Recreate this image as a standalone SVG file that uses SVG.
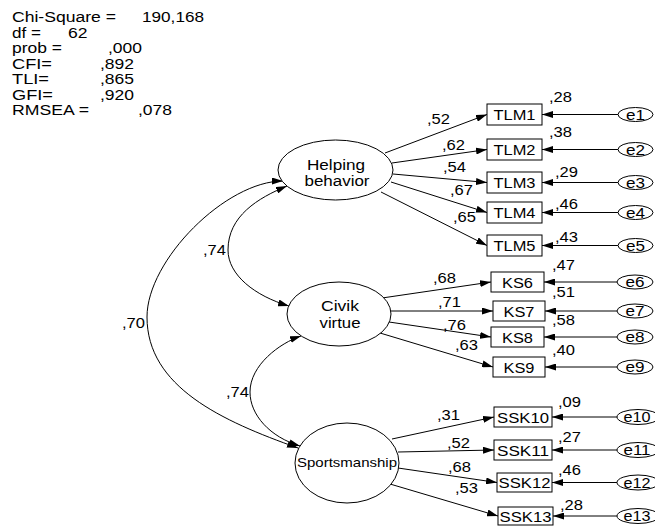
<svg xmlns="http://www.w3.org/2000/svg" width="655" height="527" viewBox="0 0 655 527">
  <style>
    .t { font-family: "Liberation Sans", Arial, sans-serif; font-size: 14px; fill: #000; }
    .c { text-anchor: middle; }
    .ln { stroke: #000; stroke-width: 1; fill: none; }
    .arr { marker-end: url(#ah); }
    .dbl { marker-start: url(#ah); marker-end: url(#ah); }
    .shape { fill: #fff; stroke: #000; stroke-width: 1; }
  </style>
  <defs>
    <marker id="ah" viewBox="0 0 11 7" refX="11" refY="3.5" markerWidth="11" markerHeight="7" markerUnits="userSpaceOnUse" orient="auto-start-reverse">
      <path d="M0,0 L11,3.5 L0,7 z" fill="#000"/>
    </marker>
  </defs>
  <rect width="655" height="527" fill="#fff"/>

  <!-- fit statistics -->
  <g id="fit">
    <text class="t" x="12" y="22" textLength="104" lengthAdjust="spacingAndGlyphs">Chi-Square =</text>
    <text class="t" x="142" y="22" textLength="62" lengthAdjust="spacingAndGlyphs">190,168</text>
    <text class="t" x="12" y="37.5" textLength="29" lengthAdjust="spacingAndGlyphs">df =</text>
    <text class="t" x="68" y="37.5" textLength="19.5" lengthAdjust="spacingAndGlyphs">62</text>
    <text class="t" x="12" y="53" textLength="50" lengthAdjust="spacingAndGlyphs">prob =</text>
    <text class="t" x="108" y="53" textLength="34" lengthAdjust="spacingAndGlyphs">,000</text>
    <text class="t" x="12" y="68.5" textLength="40" lengthAdjust="spacingAndGlyphs">CFI=</text>
    <text class="t" x="100" y="68.5" textLength="34" lengthAdjust="spacingAndGlyphs">,892</text>
    <text class="t" x="12" y="84" textLength="37" lengthAdjust="spacingAndGlyphs">TLI=</text>
    <text class="t" x="100" y="84" textLength="34" lengthAdjust="spacingAndGlyphs">,865</text>
    <text class="t" x="12" y="99.5" textLength="41" lengthAdjust="spacingAndGlyphs">GFI=</text>
    <text class="t" x="100" y="99.5" textLength="34" lengthAdjust="spacingAndGlyphs">,920</text>
    <text class="t" x="12" y="115" textLength="77" lengthAdjust="spacingAndGlyphs">RMSEA =</text>
    <text class="t" x="138" y="115" textLength="34" lengthAdjust="spacingAndGlyphs">,078</text>
  </g>

  <!-- connectors -->
  <g id="connectors" class="ln">
    <!-- covariances -->
    <path class="dbl" d="M283,181 C226,181 147,260 147,317 C147,387 222,421 298,448"/>
    <path class="dbl" d="M287,186 C258,198 228,216 228,250 C228,275 255,296 289,306"/>
    <path class="dbl" d="M301,336 C280,343 250,365 250,392 C250,415 270,437 300,446"/>
    <!-- Helping behavior loadings -->
    <line class="arr" x1="385" y1="153" x2="487" y2="114.5"/>
    <line class="arr" x1="392" y1="163" x2="487" y2="149.5"/>
    <line class="arr" x1="393" y1="174" x2="487" y2="182.5"/>
    <line class="arr" x1="391" y1="182" x2="487" y2="212.5"/>
    <line class="arr" x1="381" y1="192" x2="487" y2="245.5"/>
    <!-- Civik virtue loadings -->
    <line class="arr" x1="382" y1="298" x2="491" y2="282"/>
    <line class="arr" x1="391" y1="311" x2="493" y2="311"/>
    <line class="arr" x1="389" y1="322" x2="491" y2="337"/>
    <line class="arr" x1="380" y1="333" x2="493" y2="367"/>
    <!-- Sportsmanship loadings -->
    <line class="arr" x1="392" y1="439" x2="494" y2="417"/>
    <line class="arr" x1="398" y1="452" x2="494" y2="450"/>
    <line class="arr" x1="398" y1="468" x2="497" y2="482.5"/>
    <line class="arr" x1="390" y1="484" x2="498" y2="516"/>
    <!-- error terms -->
    <line class="arr" x1="618" y1="114.5" x2="542" y2="114.5"/>
    <line class="arr" x1="618" y1="149.5" x2="542" y2="149.5"/>
    <line class="arr" x1="618" y1="182.5" x2="542" y2="182.5"/>
    <line class="arr" x1="618" y1="212.5" x2="542" y2="212.5"/>
    <line class="arr" x1="618" y1="245.5" x2="542" y2="245.5"/>
    <line class="arr" x1="617" y1="282" x2="544" y2="282"/>
    <line class="arr" x1="617" y1="311" x2="545" y2="311"/>
    <line class="arr" x1="617" y1="337" x2="544" y2="337"/>
    <line class="arr" x1="617" y1="367" x2="545" y2="367"/>
    <line class="arr" x1="617" y1="417" x2="552" y2="417"/>
    <line class="arr" x1="617" y1="450" x2="552" y2="450"/>
    <line class="arr" x1="617" y1="482.5" x2="552" y2="482.5"/>
    <line class="arr" x1="617" y1="516" x2="553" y2="516"/>
  </g>

  <!-- connector labels -->
  <g id="estimates">
    <text class="t" x="122" y="328" textLength="23" lengthAdjust="spacingAndGlyphs">,70</text>
    <text class="t" x="203" y="255" textLength="23" lengthAdjust="spacingAndGlyphs">,74</text>
    <text class="t" x="226" y="397" textLength="23" lengthAdjust="spacingAndGlyphs">,74</text>

    <text class="t" x="427" y="124" textLength="23" lengthAdjust="spacingAndGlyphs">,52</text>
    <text class="t" x="442" y="150" textLength="23" lengthAdjust="spacingAndGlyphs">,62</text>
    <text class="t" x="443" y="172" textLength="23" lengthAdjust="spacingAndGlyphs">,54</text>
    <text class="t" x="450" y="195" textLength="23" lengthAdjust="spacingAndGlyphs">,67</text>
    <text class="t" x="453" y="222" textLength="23" lengthAdjust="spacingAndGlyphs">,65</text>

    <text class="t" x="433" y="283" textLength="23" lengthAdjust="spacingAndGlyphs">,68</text>
    <text class="t" x="438" y="307" textLength="23" lengthAdjust="spacingAndGlyphs">,71</text>
    <text class="t" x="443" y="330" textLength="23" lengthAdjust="spacingAndGlyphs">,76</text>
    <text class="t" x="455" y="350" textLength="23" lengthAdjust="spacingAndGlyphs">,63</text>

    <text class="t" x="437" y="420" textLength="23" lengthAdjust="spacingAndGlyphs">,31</text>
    <text class="t" x="447" y="448" textLength="23" lengthAdjust="spacingAndGlyphs">,52</text>
    <text class="t" x="448" y="472" textLength="23" lengthAdjust="spacingAndGlyphs">,68</text>
    <text class="t" x="455" y="493" textLength="23" lengthAdjust="spacingAndGlyphs">,53</text>

    <text class="t" x="549" y="102" textLength="23" lengthAdjust="spacingAndGlyphs">,28</text>
    <text class="t" x="549" y="137" textLength="23" lengthAdjust="spacingAndGlyphs">,38</text>
    <text class="t" x="555" y="177" textLength="23" lengthAdjust="spacingAndGlyphs">,29</text>
    <text class="t" x="555" y="209" textLength="23" lengthAdjust="spacingAndGlyphs">,46</text>
    <text class="t" x="555" y="242" textLength="23" lengthAdjust="spacingAndGlyphs">,43</text>
    <text class="t" x="552" y="270" textLength="23" lengthAdjust="spacingAndGlyphs">,47</text>
    <text class="t" x="552" y="297" textLength="23" lengthAdjust="spacingAndGlyphs">,51</text>
    <text class="t" x="552" y="325" textLength="23" lengthAdjust="spacingAndGlyphs">,58</text>
    <text class="t" x="552" y="355" textLength="23" lengthAdjust="spacingAndGlyphs">,40</text>
    <text class="t" x="558" y="407" textLength="23" lengthAdjust="spacingAndGlyphs">,09</text>
    <text class="t" x="558" y="442" textLength="23" lengthAdjust="spacingAndGlyphs">,27</text>
    <text class="t" x="558" y="475" textLength="23" lengthAdjust="spacingAndGlyphs">,46</text>
    <text class="t" x="560" y="510" textLength="23" lengthAdjust="spacingAndGlyphs">,28</text>
  </g>

  <!-- latent factors -->
  <g id="helping">
    <ellipse class="shape" cx="335.5" cy="170" rx="57.5" ry="30"/>
    <text class="t c" x="336" y="170" textLength="58" lengthAdjust="spacingAndGlyphs">Helping</text>
    <text class="t c" x="337" y="186" textLength="65" lengthAdjust="spacingAndGlyphs">behavior</text>
  </g>
  <g id="civik">
    <ellipse class="shape" cx="339" cy="314" rx="52" ry="32"/>
    <text class="t c" x="340" y="311" textLength="38" lengthAdjust="spacingAndGlyphs">Civik</text>
    <text class="t c" x="340" y="328" textLength="41" lengthAdjust="spacingAndGlyphs">virtue</text>
  </g>
  <g id="sportsmanship">
    <ellipse class="shape" cx="347" cy="463" rx="52" ry="40"/>
    <text class="t c" x="347" y="467" style="font-size:13px" textLength="100" lengthAdjust="spacingAndGlyphs">Sportsmanship</text>
  </g>

  <!-- observed indicators -->
  <g id="TLM1"><rect class="shape" x="487" y="104" width="55" height="21"/><text class="t c" x="514.5" y="120" textLength="42" lengthAdjust="spacingAndGlyphs">TLM1</text></g>
  <g id="TLM2"><rect class="shape" x="487" y="139" width="55" height="21"/><text class="t c" x="514.5" y="155" textLength="42" lengthAdjust="spacingAndGlyphs">TLM2</text></g>
  <g id="TLM3"><rect class="shape" x="487" y="172" width="55" height="21"/><text class="t c" x="514.5" y="188" textLength="42" lengthAdjust="spacingAndGlyphs">TLM3</text></g>
  <g id="TLM4"><rect class="shape" x="487" y="202" width="55" height="21"/><text class="t c" x="514.5" y="218" textLength="42" lengthAdjust="spacingAndGlyphs">TLM4</text></g>
  <g id="TLM5"><rect class="shape" x="487" y="235" width="55" height="21"/><text class="t c" x="514.5" y="251" textLength="42" lengthAdjust="spacingAndGlyphs">TLM5</text></g>

  <g id="KS6"><rect class="shape" x="491" y="272" width="53" height="20"/><text class="t c" x="517.5" y="287.5" textLength="31" lengthAdjust="spacingAndGlyphs">KS6</text></g>
  <g id="KS7"><rect class="shape" x="493" y="301" width="52" height="20"/><text class="t c" x="519" y="316.5" textLength="31" lengthAdjust="spacingAndGlyphs">KS7</text></g>
  <g id="KS8"><rect class="shape" x="491" y="327" width="53" height="20"/><text class="t c" x="517.5" y="342.5" textLength="31" lengthAdjust="spacingAndGlyphs">KS8</text></g>
  <g id="KS9"><rect class="shape" x="493" y="357" width="52" height="20"/><text class="t c" x="519" y="372.5" textLength="31" lengthAdjust="spacingAndGlyphs">KS9</text></g>

  <g id="SSK10"><rect class="shape" x="494" y="407" width="58" height="20"/><text class="t c" x="523" y="422.5" textLength="52" lengthAdjust="spacingAndGlyphs">SSK10</text></g>
  <g id="SSK11"><rect class="shape" x="494" y="440" width="58" height="20"/><text class="t c" x="523" y="455.5" textLength="52" lengthAdjust="spacingAndGlyphs">SSK11</text></g>
  <g id="SSK12"><rect class="shape" x="497" y="473" width="55" height="19"/><text class="t c" x="524.5" y="488" textLength="52" lengthAdjust="spacingAndGlyphs">SSK12</text></g>
  <g id="SSK13"><rect class="shape" x="498" y="507" width="55" height="18"/><text class="t c" x="525.5" y="521.5" textLength="52" lengthAdjust="spacingAndGlyphs">SSK13</text></g>

  <!-- error terms -->
  <g id="e1"><ellipse class="shape" cx="635.5" cy="114.5" rx="17.5" ry="7"/><text class="t c" x="635.5" y="119.5" textLength="19" lengthAdjust="spacingAndGlyphs">e1</text></g>
  <g id="e2"><ellipse class="shape" cx="635.5" cy="149.5" rx="17.5" ry="7"/><text class="t c" x="635.5" y="154.5" textLength="19" lengthAdjust="spacingAndGlyphs">e2</text></g>
  <g id="e3"><ellipse class="shape" cx="635.5" cy="182.5" rx="17.5" ry="7"/><text class="t c" x="635.5" y="187.5" textLength="19" lengthAdjust="spacingAndGlyphs">e3</text></g>
  <g id="e4"><ellipse class="shape" cx="635.5" cy="212.5" rx="17.5" ry="7"/><text class="t c" x="635.5" y="217.5" textLength="19" lengthAdjust="spacingAndGlyphs">e4</text></g>
  <g id="e5"><ellipse class="shape" cx="635.5" cy="245.5" rx="17.5" ry="7"/><text class="t c" x="635.5" y="250.5" textLength="19" lengthAdjust="spacingAndGlyphs">e5</text></g>
  <g id="e6"><ellipse class="shape" cx="635" cy="282" rx="18" ry="7"/><text class="t c" x="635" y="287" textLength="19" lengthAdjust="spacingAndGlyphs">e6</text></g>
  <g id="e7"><ellipse class="shape" cx="635" cy="311" rx="18" ry="7"/><text class="t c" x="635" y="316" textLength="19" lengthAdjust="spacingAndGlyphs">e7</text></g>
  <g id="e8"><ellipse class="shape" cx="635" cy="337" rx="18" ry="7"/><text class="t c" x="635" y="342" textLength="19" lengthAdjust="spacingAndGlyphs">e8</text></g>
  <g id="e9"><ellipse class="shape" cx="635" cy="367" rx="18" ry="7"/><text class="t c" x="635" y="372" textLength="19" lengthAdjust="spacingAndGlyphs">e9</text></g>
  <g id="e10"><ellipse class="shape" cx="638" cy="417" rx="21" ry="7.5"/><text class="t c" x="637" y="422" textLength="27" lengthAdjust="spacingAndGlyphs">e10</text></g>
  <g id="e11"><ellipse class="shape" cx="638" cy="450" rx="21" ry="7.5"/><text class="t c" x="637" y="455" textLength="27" lengthAdjust="spacingAndGlyphs">e11</text></g>
  <g id="e12"><ellipse class="shape" cx="638" cy="482.5" rx="21" ry="7.5"/><text class="t c" x="637" y="487.5" textLength="27" lengthAdjust="spacingAndGlyphs">e12</text></g>
  <g id="e13"><ellipse class="shape" cx="638" cy="516" rx="21" ry="7.5"/><text class="t c" x="637" y="521" textLength="27" lengthAdjust="spacingAndGlyphs">e13</text></g>
</svg>
